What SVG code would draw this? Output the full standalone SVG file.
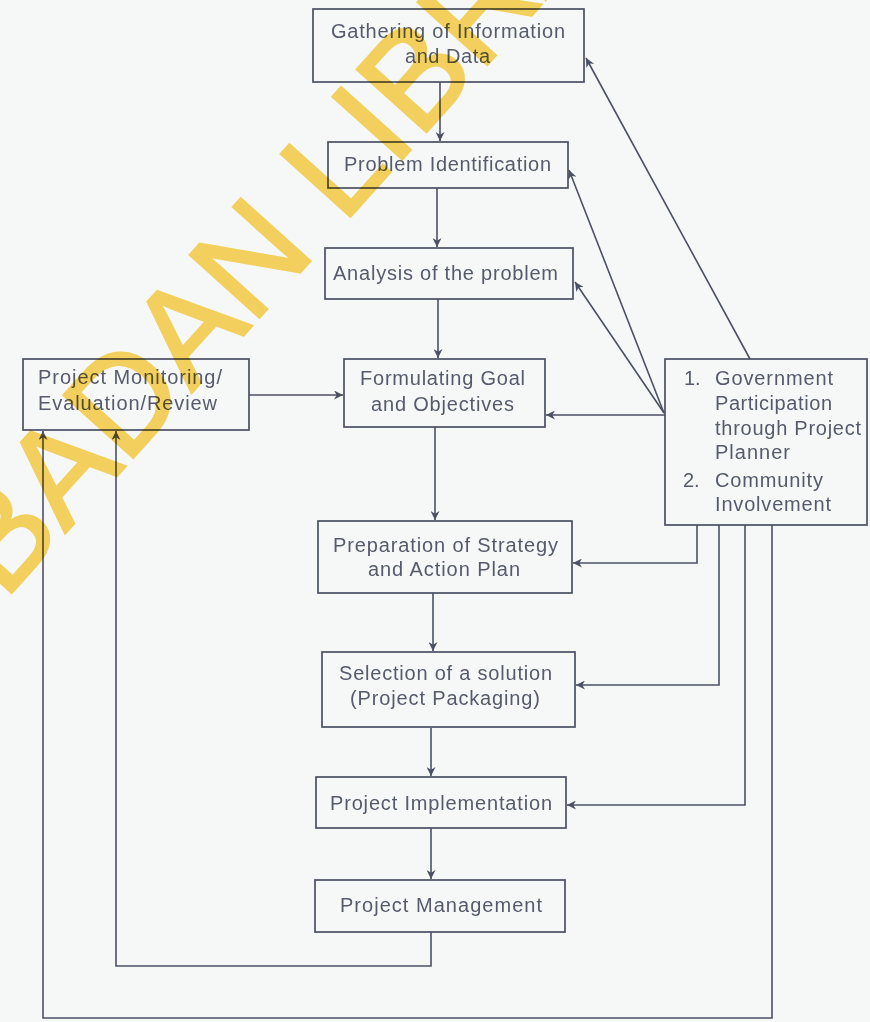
<svg xmlns="http://www.w3.org/2000/svg" width="870" height="1022" viewBox="0 0 870 1022">
<style>
.bx{fill:none;stroke:#4b5163;stroke-width:1.7}
.t{font-family:"Liberation Sans",Arial,sans-serif;font-size:20px;fill:#555b6b}
.c{fill:none;stroke:#4b5163;stroke-width:1.6}
.wm{font-family:"Liberation Sans",Arial,sans-serif;font-size:136px;fill:#fcd660;stroke:#fcd660;stroke-width:2.5;mix-blend-mode:multiply}
</style>
<defs>
<marker id="ah" viewBox="0 0 10 10" refX="10" refY="5" markerWidth="11" markerHeight="9" markerUnits="userSpaceOnUse" orient="auto">
<path d="M0,0 L10,5 L0,10 L3,5 Z" fill="#4b5163"/>
</marker>
</defs>
<rect width="870" height="1022" fill="#f6f8f8"/>
<g id="connectors">
<path class="c" d="M440,82 V141" marker-end="url(#ah)"/>
<path class="c" d="M437,188 V247" marker-end="url(#ah)"/>
<path class="c" d="M438,299 V358" marker-end="url(#ah)"/>
<path class="c" d="M435,427 V520" stroke-width="2.6" marker-end="url(#ah)"/>
<path class="c" d="M433,593 V651" stroke-width="2.2" marker-end="url(#ah)"/>
<path class="c" d="M431,728 V776" marker-end="url(#ah)"/>
<path class="c" d="M431,828 V879" marker-end="url(#ah)"/>
<path class="c" d="M249,395 H343" marker-end="url(#ah)"/>
<path class="c" d="M750,359 L586,58" marker-end="url(#ah)"/>
<path class="c" d="M664,413 L569,170" marker-end="url(#ah)"/>
<path class="c" d="M664,413 L575,282" stroke-width="2.2" marker-end="url(#ah)"/>
<path class="c" d="M665,415 H546" marker-end="url(#ah)"/>
<path class="c" d="M697,525 V563 H573" marker-end="url(#ah)"/>
<path class="c" d="M719,525 V685 H576" marker-end="url(#ah)"/>
<path class="c" d="M745,525 V805 H567" marker-end="url(#ah)"/>
<path class="c" d="M772,525 V1018 H43 V431" marker-end="url(#ah)"/>
<path class="c" d="M431,932 V966 H116 V431" marker-end="url(#ah)"/>
</g>
<g id="gathering">
<rect class="bx" x="313" y="9" width="271" height="73"/>
<text class="t" x="331" y="38" textLength="234">Gathering of Information</text>
<text class="t" x="405" y="63" textLength="85">and Data</text>
</g>
<g id="problem-id">
<rect class="bx" x="328" y="142" width="240" height="46"/>
<text class="t" x="344" y="171" textLength="207">Problem Identification</text>
</g>
<g id="analysis">
<rect class="bx" x="325" y="248" width="248" height="51"/>
<text class="t" x="333" y="280" textLength="225">Analysis of the problem</text>
</g>
<g id="formulating">
<rect class="bx" x="344" y="359" width="201" height="68"/>
<text class="t" x="360" y="385" textLength="165">Formulating Goal</text>
<text class="t" x="371" y="411" textLength="143">and Objectives</text>
</g>
<g id="monitoring">
<rect class="bx" x="23" y="359" width="226" height="71"/>
<text class="t" x="38" y="384" textLength="184">Project Monitoring/</text>
<text class="t" x="38" y="410" textLength="179">Evaluation/Review</text>
</g>
<g id="participation">
<rect class="bx" x="665" y="359" width="202" height="166"/>
<text class="t" x="684" y="385">1.</text>
<text class="t" x="715" y="385" textLength="118">Government</text>
<text class="t" x="715" y="410" textLength="117">Participation</text>
<text class="t" x="715" y="435" textLength="146">through Project</text>
<text class="t" x="715" y="459" textLength="75">Planner</text>
<text class="t" x="683" y="487">2.</text>
<text class="t" x="715" y="487" textLength="108">Community</text>
<text class="t" x="715" y="511" textLength="116">Involvement</text>
</g>
<g id="strategy">
<rect class="bx" x="318" y="521" width="254" height="72"/>
<text class="t" x="333" y="552" textLength="225">Preparation of Strategy</text>
<text class="t" x="368" y="576" textLength="152">and Action Plan</text>
</g>
<g id="selection">
<rect class="bx" x="322" y="652" width="253" height="75"/>
<text class="t" x="339" y="680" textLength="213">Selection of a solution</text>
<text class="t" x="350" y="705" textLength="190">(Project Packaging)</text>
</g>
<g id="implementation">
<rect class="bx" x="316" y="777" width="250" height="51"/>
<text class="t" x="330" y="810" textLength="222">Project Implementation</text>
</g>
<g id="management">
<rect class="bx" x="315" y="880" width="250" height="52"/>
<text class="t" x="340" y="912" textLength="202">Project Management</text>
</g>
<text class="wm" transform="translate(-21,629) rotate(-48)">IBADAN LIBRARY</text>
</svg>
